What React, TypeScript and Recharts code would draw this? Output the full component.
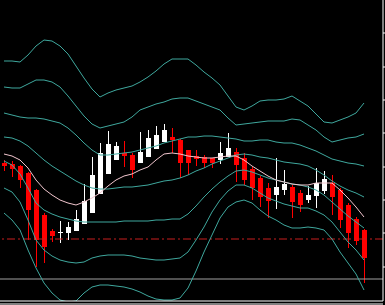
import React from 'react';
import { ComposedChart, Bar, Line, XAxis, YAxis, ReferenceLine } from 'recharts';

// price levels are in chart points (0 = bottom of the plot)
const OPEN = [138, 137, 135, 128, 111, 86, 70, 68, 68, 70, 77, 88, 107, 127, 141, 148, 146, 138, 144, 152, 159, 164, 161, 151, 145, 144, 143, 141, 144, 149, 143, 132, 123, 113, 106, 111, 114, 108, 101, 105, 110, 118, 111, 96, 82, 71];
const HIGH = [141, 140, 136, 129, 112, 88, 72, 80, 79, 91, 117, 144, 158, 170, 159, 160, 148, 169, 171, 175, 177, 173, 162, 151, 151, 146, 143, 159, 168, 153, 148, 134, 125, 118, 143, 131, 116, 111, 115, 133, 130, 126, 113, 98, 84, 72];
const LOW = [130, 124, 113, 61, 34, 38, 59, 58, 61, 70, 77, 88, 107, 127, 141, 134, 123, 138, 144, 152, 159, 148, 123, 126, 135, 133, 133, 137, 144, 119, 116, 101, 94, 83, 92, 106, 83, 89, 98, 93, 107, 86, 73, 53, 56, 18];
const CLOSE = [135, 132, 121, 91, 61, 54, 65, 69, 74, 82, 100, 126, 148, 157, 155, 145, 131, 149, 163, 166, 171, 161, 138, 138, 142, 138, 138, 148, 153, 136, 121, 113, 104, 100, 114, 117, 99, 96, 106, 118, 122, 104, 81, 68, 60, 43];

const UPPER3 = [240, 240, 239, 246, 255, 261, 260, 255, 247, 235, 223, 212, 204, 208, 211, 213, 215, 219, 224, 230, 237, 242, 242, 242, 236, 229, 223, 216, 205, 194, 191, 195, 200, 201, 201, 202, 205, 200, 195, 187, 179, 178, 181, 184, 188, 198];
const UPPER2 = [214, 213, 213, 217, 221, 221, 219, 214, 205, 195, 185, 177, 173, 175, 177, 179, 184, 191, 194, 197, 199, 202, 203, 203, 200, 197, 194, 191, 183, 176, 177, 178, 179, 180, 180, 180, 182, 181, 176, 171, 164, 159, 161, 163, 164, 167];
const UPPER1 = [188, 186, 184, 183, 183, 182, 180, 178, 173, 166, 158, 151, 146, 146, 147, 148, 149, 151, 153, 155, 158, 160, 162, 164, 164, 165, 165, 164, 163, 162, 160, 160, 161, 161, 159, 158, 158, 156, 153, 150, 146, 142, 140, 138, 137, 135];
const MIDDLE = [164, 163, 160, 155, 148, 141, 135, 130, 125, 120, 116, 113, 112, 112, 113, 114, 114, 115, 116, 118, 120, 121, 123, 126, 130, 133, 137, 140, 143, 146, 147, 146, 144, 143, 141, 139, 138, 137, 135, 131, 126, 120, 115, 111, 108, 104];
const LOWER1 = [140, 136, 127, 113, 98, 91, 87, 84, 82, 80, 79, 79, 79, 79, 79, 80, 80, 80, 80, 81, 81, 82, 82, 87, 95, 104, 112, 119, 125, 130, 131, 129, 126, 123, 121, 119, 117, 116, 114, 111, 106, 99, 92, 85, 79, 73];
const LOWER2 = [113, 109, 99, 81, 61, 51, 45, 41, 39, 38, 39, 43, 45, 46, 46, 46, 45, 43, 42, 41, 41, 42, 43, 49, 61, 74, 89, 101, 110, 116, 116, 113, 108, 103, 100, 97, 95, 93, 93, 90, 86, 79, 69, 59, 51, 41];
const LOWER3 = [88, 81, 71, 51, 33, 18, 8, 1, -1, 0, 8, 14, 16, 16, 15, 14, 12, 9, 5, 2, 1, 1, 3, 13, 30, 49, 66, 83, 94, 99, 101, 98, 91, 85, 81, 76, 73, 73, 74, 73, 71, 62, 49, 38, 27, 11];
const EMA = [147, 145, 141, 133, 121, 112, 106, 101, 98, 96, 99, 103, 108, 115, 121, 125, 127, 131, 134, 141, 147, 148, 147, 145, 144, 143, 143, 144, 145, 145, 141, 135, 130, 125, 121, 119, 117, 116, 116, 118, 118, 118, 111, 103, 94, 84];

const PRICE_TICKS = [34, 68, 101, 134, 168, 201, 234, 268];
const ALERT_LEVEL = 62;
const SUPPORT_LEVEL = 22;

const COLORS = {
  bg: '#000000',
  bull: '#ffffff',
  bear: '#ff0000',
  band: '#3fa89e',
  ema: '#f2c6ce',
  alert: '#c81e1e',
  support: '#a0a0a0',
  axis: '#ffffff',
};

const data = OPEN.map((o, i) => ({
  i,
  open: o,
  high: HIGH[i],
  low: LOW[i],
  close: CLOSE[i],
  range: [LOW[i], HIGH[i]],
  u3: UPPER3[i],
  u2: UPPER2[i],
  u1: UPPER1[i],
  mid: MIDDLE[i],
  l1: LOWER1[i],
  l2: LOWER2[i],
  l3: LOWER3[i],
  ema: EMA[i],
}));

const Candle = (props: any) => {
  const { x, y, width, height, payload } = props;
  const top = Math.min(y, y + height);
  const h = Math.abs(height);
  const span = payload.high - payload.low;
  const k = span > 0 ? h / span : 0;
  const cx = Math.round(x + width / 2);
  const up = payload.close >= payload.open;
  const color = up ? COLORS.bull : COLORS.bear;
  const bodyTop = top + (payload.high - Math.max(payload.open, payload.close)) * k;
  const bodyH = Math.max(1, Math.abs(payload.open - payload.close) * k);
  return (
    <g shapeRendering="crispEdges">
      <rect x={cx} y={top} width={1} height={h} fill={color} />
      <rect x={cx - 2} y={bodyTop} width={5} height={bodyH} fill={color} />
    </g>
  );
};

const bands = ['u3', 'u2', 'u1', 'mid', 'l1', 'l2', 'l3'];

export default function App() {
  return (
    <div style={{ position: 'absolute', left: 0, top: 0, width: 385, height: 305, background: COLORS.bg }}>
      <ComposedChart width={385} height={305} data={data} margin={{ top: 0, right: 0, bottom: 0, left: 0 }}>
        <XAxis xAxisId="x" dataKey="i" type="number" domain={[-0.5, 47.375]} allowDataOverflow
          height={3} tick={false} tickLine={false} stroke={COLORS.axis} />
        <XAxis xAxisId="x2" dataKey="i" type="number" domain={[-0.5, 47.375]} allowDataOverflow
          height={1} tick={false} tickLine={false} stroke={COLORS.axis} />
        <YAxis yAxisId="y" orientation="right" width={2} domain={[0, 301]} allowDataOverflow
          ticks={PRICE_TICKS} tickSize={3} tickFormatter={() => ''} stroke={COLORS.axis} />
        <ReferenceLine xAxisId="x" yAxisId="y" y={SUPPORT_LEVEL} stroke={COLORS.support} strokeWidth={1} />
        <ReferenceLine xAxisId="x" yAxisId="y" y={ALERT_LEVEL} stroke={COLORS.alert} strokeWidth={1} strokeDasharray="8 3 2 3" />
        <Bar xAxisId="x" yAxisId="y" dataKey="range" barSize={5} shape={<Candle />} isAnimationActive={false} />
        {bands.map(key => (
          <Line key={key} xAxisId="x" yAxisId="y" type="linear" dataKey={key} stroke={COLORS.band}
            strokeWidth={1} dot={false} activeDot={false} isAnimationActive={false} />
        ))}
        <Line xAxisId="x" yAxisId="y" type="linear" dataKey="ema" stroke={COLORS.ema}
          strokeWidth={1} dot={false} activeDot={false} isAnimationActive={false} />
      </ComposedChart>
    </div>
  );
}
